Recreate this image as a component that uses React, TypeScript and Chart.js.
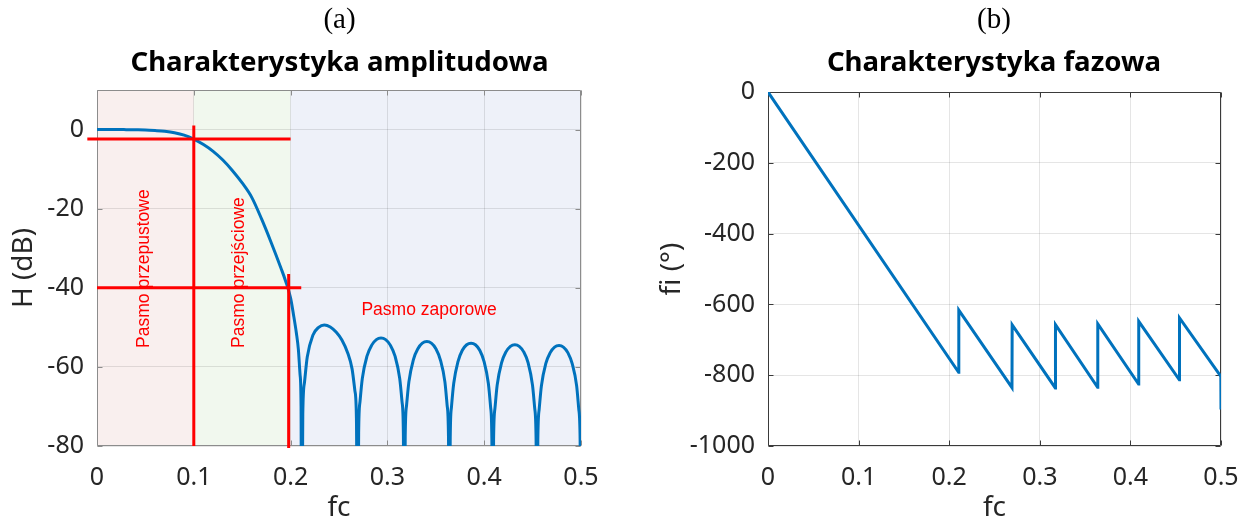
import React, { useEffect, useRef } from 'react';
import { Chart, registerables } from 'chart.js';

Chart.register(...registerables);

// ---------- data ----------
const ampFreq = [
  0, 0.01, 0.02, 0.03, 0.04, 0.05, 0.06, 0.07, 0.08, 0.09, 0.1, 0.11, 0.12, 0.13, 0.14, 0.15, 0.16, 0.17, 0.18, 0.19, 0.195, 0.2, 0.203, 0.206, 0.208, 0.2098, 0.2108, 0.2114,
  0.2126, 0.2143, 0.2172, 0.223, 0.229, 0.2348, 0.241, 0.247, 0.253, 0.259, 0.2635, 0.2664, 0.268, 0.2693,
  0.2703, 0.2717, 0.2741, 0.2789, 0.2838, 0.2886, 0.2934, 0.2982, 0.303, 0.3079, 0.3127, 0.3151, 0.3165, 0.3175,
  0.3184, 0.3198, 0.3222, 0.3268, 0.3315, 0.3361, 0.3408, 0.3454, 0.3501, 0.3547, 0.3594, 0.3617, 0.3631, 0.364,
  0.3649, 0.3662, 0.3685, 0.373, 0.3774, 0.3819, 0.3864, 0.3909, 0.3954, 0.3998, 0.4043, 0.4066, 0.4079, 0.4088,
  0.4097, 0.4111, 0.4134, 0.4179, 0.4225, 0.4271, 0.4317, 0.4362, 0.4408, 0.4454, 0.4499, 0.4522, 0.4536, 0.4545,
  0.4554, 0.4568, 0.4591, 0.4636, 0.4682, 0.4727, 0.4773, 0.4818, 0.4864, 0.4909, 0.4955, 0.4977, 0.4991, 0.5,
];
const ampDb = [
  0, 0, 0, -0.02, -0.05, -0.1, -0.25, -0.45, -0.8, -1.4, -2.4, -3.8, -5.5, -7.7, -10.4, -13.5, -17.2, -22.6, -28.6, -35.0, -38.4, -42.6, -46.8, -51.5, -55.5, -62, -70, -120,
  -72, -64, -57.5, -52.0, -50.0, -49.4, -49.9, -51.2, -53.2, -56.5, -60.5, -66, -73, -120,
  -76.7, -68.8, -62.9, -57.3, -54.5, -53.1, -52.7, -53.1, -54.5, -57.3, -62.9, -68.8, -76.7, -120,
  -77.6, -69.7, -63.8, -58.2, -55.4, -54.0, -53.6, -54.0, -55.4, -58.2, -63.8, -69.7, -77.6, -120,
  -78, -70.1, -64.2, -58.6, -55.8, -54.4, -54.0, -54.4, -55.8, -58.6, -64.2, -70.1, -78, -120,
  -78.4, -70.5, -64.6, -59.0, -56.2, -54.8, -54.4, -54.8, -56.2, -59.0, -64.6, -70.5, -78.4, -120,
  -78.6, -70.7, -64.8, -59.2, -56.4, -55.0, -54.6, -55.0, -56.4, -59.2, -64.8, -70.7, -78.6, -120,
];

const phaseFreq = [0, 0.2104, 0.2106, 0.2693, 0.2695, 0.3171, 0.3173, 0.3638, 0.364, 0.409, 0.4092, 0.454, 0.4542, 0.4998, 0.5];
const phaseDeg = [0, -792, -616, -835, -658, -836, -657, -834, -655, -825, -648, -813, -638, -803, -897];

// red marker lines (left chart)
const passEdgeX = [0.1, 0.1];
const passEdgeY = [1, -80];
const passLevelX = [-0.01, 0.2];
const passLevelY = [-2.4, -2.4];
const stopLevelX = [0, 0.211];
const stopLevelY = [-40, -40];
const stopEdgeX = [0.198, 0.198];
const stopEdgeY = [-36.5, -80.5];

// band shading
const bandEdges = [0, 0.1, 0.2, 0.5];
const bandNames = ['Pasmo przepustowe', 'Pasmo przejściowe', 'Pasmo zaporowe'];

// ticks
const xTickValues = [0, 0.1, 0.2, 0.3, 0.4, 0.5];
const xTickLabels = ['0', '0.1', '0.2', '0.3', '0.4', '0.5'];
const ampTickValues = [-80, -60, -40, -20, 0];
const ampTickLabels = ['-80', '-60', '-40', '-20', '0'];
const phaseTickValues = [-1000, -800, -600, -400, -200, 0];
const phaseTickLabels = ['-1000', '-800', '-600', '-400', '-200', '0'];

const titleA = '(a)';
const titleB = '(b)';
const headA = 'Charakterystyka amplitudowa';
const headB = 'Charakterystyka fazowa';

// ---------- styles ----------
const BLUE = '#0072BD';
const RED = '#ff0000';
const TEXT = '#262626';
const GRID = 'rgba(0,0,0,0.1)';
const bandColors = ['#f9efee', '#f1f8ee', '#eef1f9'];
const SANS = '"Noto Sans", "Open Sans", sans-serif';

function pts(xs: number[], ys: number[]) {
  return xs.map((x, i) => ({ x, y: ys[i] }));
}

function framePlugin(color: string, xv: number[], yv: number[]) {
  return {
    id: 'frame',
    beforeDatasetsDraw(chart: any) {
      const { ctx, chartArea: a, scales } = chart;
      const L = Math.round(a.left) + 0.5;
      const R = Math.round(a.right) - 0.5;
      const T = Math.round(a.top) + 0.5;
      const B = Math.round(a.bottom) - 0.5;
      ctx.save();
      ctx.strokeStyle = color;
      ctx.lineWidth = 1;
      ctx.beginPath();
      ctx.rect(L, T, R - L, B - T);
      const tl = 5;
      xv.forEach((v) => {
        const p = Math.round(scales.x.getPixelForValue(v)) + 0.5;
        ctx.moveTo(p, B);
        ctx.lineTo(p, B - tl);
        ctx.moveTo(p, T);
        ctx.lineTo(p, T + tl);
      });
      yv.forEach((v) => {
        const p = Math.round(scales.y.getPixelForValue(v)) + 0.5;
        ctx.moveTo(L, p);
        ctx.lineTo(L + tl, p);
        ctx.moveTo(R, p);
        ctx.lineTo(R - tl, p);
      });
      ctx.stroke();
      ctx.restore();
    },
  };
}

function titlePlugin(tag: string, head: string, cx: number) {
  return {
    id: 'titles',
    afterDraw(chart: any) {
      const { ctx } = chart;
      ctx.save();
      ctx.fillStyle = '#000';
      ctx.textAlign = 'center';
      ctx.textBaseline = 'alphabetic';
      ctx.font = '29px "Liberation Serif", "DejaVu Serif", serif';
      ctx.fillText(tag, cx, 28);
      ctx.font = 'bold 27.6px ' + SANS;
      ctx.fillText(head, cx, 70.5);
      ctx.restore();
    },
  };
}

const bandPlugin = {
  id: 'bands',
  beforeDraw(chart: any) {
    const { ctx, chartArea: a, scales } = chart;
    ctx.save();
    for (let i = 0; i < bandEdges.length - 1; i++) {
      const x0 = scales.x.getPixelForValue(bandEdges[i]);
      const x1 = scales.x.getPixelForValue(bandEdges[i + 1]);
      ctx.fillStyle = bandColors[i];
      ctx.fillRect(x0, a.top, x1 - x0, a.bottom - a.top);
    }
    ctx.restore();
  },
};

const labelPlugin = {
  id: 'bandLabels',
  afterDatasetsDraw(chart: any) {
    const { ctx, scales } = chart;
    const xs = scales.x;
    const ys = scales.y;
    ctx.save();
    ctx.fillStyle = RED;
    ctx.font = '17.5px "Liberation Sans", Arial, sans-serif';
    ctx.textBaseline = 'middle';
    const vert = [
      { f: 0.0486, db: -55.2, t: bandNames[0] },
      { f: 0.147, db: -55.2, t: bandNames[1] },
    ];
    vert.forEach((v) => {
      ctx.save();
      ctx.translate(xs.getPixelForValue(v.f), ys.getPixelForValue(v.db));
      ctx.rotate(-Math.PI / 2);
      ctx.textAlign = 'left';
      ctx.fillText(v.t, 0, 0);
      ctx.restore();
    });
    ctx.textAlign = 'center';
    ctx.fillText(bandNames[2], xs.getPixelForValue(0.343), ys.getPixelForValue(-45.6));
    ctx.restore();
  },
};

function xScale(height: number) {
  return {
    type: 'linear' as const,
    min: 0,
    max: 0.5,
    afterBuildTicks: (s: any) => {
      s.ticks = xTickValues.map((value) => ({ value }));
    },
    afterFit: (s: any) => {
      s.height = height;
      s.paddingLeft = 0;
      s.paddingRight = 0;
    },
    ticks: {
      callback: (_v: any, i: number) => xTickLabels[i],
      color: TEXT,
      font: { family: SANS, size: 25 },
      padding: 17,
      maxRotation: 0,
      autoSkip: false,
    },
    grid: { color: GRID, drawTicks: false },
    border: { display: false },
    title: {
      display: true,
      text: 'fc',
      color: TEXT,
      font: { family: SANS, size: 28, lineHeight: 0.75 },
      padding: { top: 0, bottom: 0 },
    },
  };
}

function yScale(min: number, max: number, vals: number[], labels: string[], width: number, title: string, titlePad: number) {
  return {
    type: 'linear' as const,
    min,
    max,
    afterBuildTicks: (s: any) => {
      s.ticks = vals.map((value) => ({ value }));
    },
    afterFit: (s: any) => {
      s.width = width;
      s.paddingTop = 0;
      s.paddingBottom = 0;
    },
    ticks: {
      callback: (_v: any, i: number) => labels[i],
      color: TEXT,
      font: { family: SANS, size: 25 },
      padding: 13,
      autoSkip: false,
    },
    grid: { color: GRID, drawTicks: false },
    border: { display: false },
    title: {
      display: true,
      text: title,
      color: TEXT,
      font: { family: SANS, size: 28, lineHeight: 1.2 },
      padding: { top: titlePad, bottom: 0 },
    },
  };
}

export default function App() {
  const leftRef = useRef<HTMLCanvasElement>(null);
  const rightRef = useRef<HTMLCanvasElement>(null);

  useEffect(() => {
    document.body.style.margin = '0';
    Chart.defaults.font.family = SANS;

    const redLine = (xs: number[], ys: number[]) =>
      ({ data: pts(xs, ys), borderColor: RED, borderWidth: 3, pointRadius: 0, clip: false, order: 1 } as any);

    const left = new Chart(leftRef.current!, {
      type: 'line',
      data: {
        datasets: [
          {
            data: pts(ampFreq, ampDb),
            borderColor: BLUE,
            borderWidth: 3,
            pointRadius: 0,
            cubicInterpolationMode: 'monotone',
            order: 2,
          } as any,
          redLine(passEdgeX, passEdgeY),
          redLine(passLevelX, passLevelY),
          redLine(stopLevelX, stopLevelY),
          redLine(stopEdgeX, stopEdgeY),
        ],
      },
      options: {
        responsive: false,
        animation: false,
        events: [],
        layout: { padding: { top: 90, right: 39, bottom: 0, left: 0 } },
        plugins: { legend: { display: false }, tooltip: { enabled: false }, title: { display: false } },
        scales: {
          x: xScale(73) as any,
          y: yScale(-80, 10, ampTickValues, ampTickLabels, 97, 'H (dB)', 7) as any,
        },
      },
      plugins: [bandPlugin, framePlugin('#8c8c8c', xTickValues, ampTickValues), labelPlugin, titlePlugin(titleA, headA, 339.5)],
    });

    const right = new Chart(rightRef.current!, {
      type: 'line',
      data: {
        datasets: [
          {
            data: pts(phaseFreq, phaseDeg),
            borderColor: BLUE,
            borderWidth: 3,
            pointRadius: 0,
            tension: 0,
          } as any,
        ],
      },
      options: {
        responsive: false,
        animation: false,
        events: [],
        layout: { padding: { top: 92, right: 20, bottom: 0, left: 0 } },
        plugins: { legend: { display: false }, tooltip: { enabled: false }, title: { display: false } },
        scales: {
          x: xScale(73) as any,
          y: yScale(-1000, 0, phaseTickValues, phaseTickLabels, 148, 'fi (°)', 35) as any,
        },
      },
      plugins: [framePlugin('#3a3a3a', xTickValues, phaseTickValues), titlePlugin(titleB, headB, 374)],
    });

    return () => {
      left.destroy();
      right.destroy();
    };
  }, []);

  return (
    <div style={{ position: 'relative', width: 1241, height: 519, background: '#fff' }}>
      <canvas ref={leftRef} width={620} height={519} style={{ position: 'absolute', left: 0, top: 0 }} />
      <canvas ref={rightRef} width={621} height={519} style={{ position: 'absolute', left: 620, top: 0 }} />
    </div>
  );
}
